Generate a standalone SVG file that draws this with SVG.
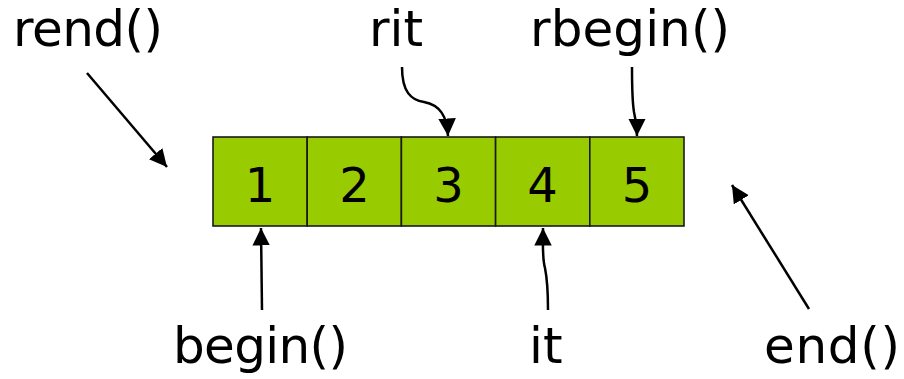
<svg xmlns="http://www.w3.org/2000/svg" width="904" height="379" viewBox="0 0 904 379">
  <style>
    .cell { fill: #99cc00; stroke: #1a1a1a; stroke-width: 1.6; }
    .num { font-family: "DejaVu Sans", Verdana, sans-serif; font-size: 48px; fill: #000; text-anchor: middle; }
    .lbl { font-family: "DejaVu Sans", Verdana, sans-serif; font-size: 50px; fill: #000; }
    .arrow { fill: none; stroke: #000; stroke-width: 2.5; marker-end: url(#head); }
  </style>
  <defs>
    <marker id="head" viewBox="0 0 10 10" refX="10" refY="5" markerWidth="7" markerHeight="7" markerUnits="strokeWidth" orient="auto">
      <path d="M0,0 L10,5 L0,10 Z" fill="#000"/>
    </marker>
  </defs>

  <!-- the five container cells -->
  <g id="cell1"><rect class="cell" x="213" y="137" width="94.2" height="89"/><text class="num" x="260" y="202">1</text></g>
  <g id="cell2"><rect class="cell" x="307.2" y="137" width="94.2" height="89"/><text class="num" x="354.5" y="202">2</text></g>
  <g id="cell3"><rect class="cell" x="401.4" y="137" width="94.2" height="89"/><text class="num" x="448.5" y="202">3</text></g>
  <g id="cell4"><rect class="cell" x="495.6" y="137" width="94.2" height="89"/><text class="num" x="542.5" y="202">4</text></g>
  <g id="cell5"><rect class="cell" x="589.8" y="137" width="94.2" height="89"/><text class="num" x="637" y="202">5</text></g>

  <!-- iterator labels -->
  <g id="rend"><text class="lbl" x="13" y="46" textLength="150">rend()</text></g>
  <g id="rit"><text class="lbl" x="369" y="46">rit</text></g>
  <g id="rbegin"><text class="lbl" x="530" y="46" textLength="200">rbegin()</text></g>
  <g id="begin"><text class="lbl" x="173" y="363" textLength="175">begin()</text></g>
  <g id="it"><text class="lbl" x="529" y="363">it</text></g>
  <g id="end"><text class="lbl" x="764" y="363" textLength="136">end()</text></g>

  <!-- connectors -->
  <g id="connectors">
    <path class="arrow" d="M87,73 L167,167"/>
    <path class="arrow" d="M402,67 C402,92 411,100 424,102 C440,105 447,116 448,136"/>
    <path class="arrow" d="M632,67 C632,90 632,100 634,112 C636,120 637,126 637,136"/>
    <path class="arrow" d="M262,310 L261,228"/>
    <path class="arrow" d="M548,310 C548,290 547,278 545,268 C542,258 543,240 543,228"/>
    <path class="arrow" d="M809,309 L732,185"/>
  </g>
</svg>
